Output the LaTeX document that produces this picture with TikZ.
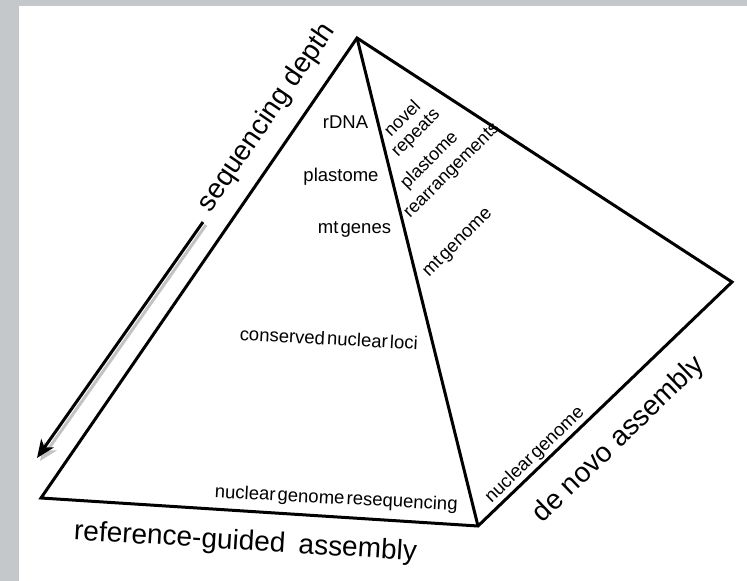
\documentclass[tikz,border=0pt]{standalone}
\usepackage{fontspec}
\setmainfont{Liberation Sans}
\usetikzlibrary{arrows.meta}
\definecolor{framegray}{RGB}{197,200,203}
\definecolor{shadowgray}{RGB}{195,195,195}
\newcommand{\ngap}{\hspace{0.12em}}
\begin{document}
\begin{tikzpicture}[x=1pt,y=-1pt,
  edge/.style={line width=3pt, line join=miter, miter limit=20},
  lbl/.style={font=\fontsize{18.5}{19.5}\selectfont, inner sep=0pt},
  rlbl/.style={font=\fontsize{18}{19}\selectfont, inner sep=0pt, rotate=45, anchor=base west},
  big/.style={font=\fontsize{28}{30}\selectfont, inner sep=0pt},
  depth/.style={line width=3pt, -{Stealth[length=18pt,width=15pt,inset=5pt]}}]
\fill[framegray] (0,0) rectangle (747,581);
\fill[white] (19,6) rectangle (747,581);
\useasboundingbox (0,0) rectangle (747,581);
% pyramid corners
\coordinate (A) at (357,38);
\coordinate (BL) at (41,498);
\coordinate (BM) at (478,526);
\coordinate (R) at (732,282);
\draw[edge] (BL) -- (A) -- (R) -- (BM) -- cycle;
\draw[edge] (A) -- (BM);
% sequencing depth arrow
\coordinate (S) at (203,222);
\coordinate (T) at (37,458);
\draw[depth, shadowgray] ([shift={(3,3)}]S) -- ([shift={(3,3)}]T);
\draw[depth] (S) -- (T);
% big labels
\node[big, rotate=55.5, anchor=base] (sd) at (273,122) {sequencing depth};
\node[big, rotate=-3.5, anchor=base] (rg) at (245,550) {reference-guided\hspace{0.2em} assembly};
\node[big, rotate=44, anchor=base] (dn) at (624,445) {de novo assembly};
% front face labels
\node[lbl, anchor=base] (rdna) at (345.5,128) {rDNA};
\node[lbl, anchor=base] (pl) at (341,181) {plastome};
\node[lbl, anchor=base] (mtg) at (354.5,233) {mt\ngap genes};
\node[lbl, anchor=base, rotate=-3] (cnl) at (328.5,345) {conserved\ngap nuclear\ngap loci};
\node[lbl, anchor=base, rotate=-3] (ngr) at (336,504) {nuclear\ngap genome\ngap resequencing};
% right face labels
\node[rlbl] (nov) at (391,138) {novel};
\node[rlbl] (rep) at (398,158) {repeats};
\node[rlbl] (pla) at (407,190) {plastome};
\node[rlbl] (rea) at (410,219) {rearrangements};
\node[lbl, rotate=45] (mtgen) at (458,243) {mt\ngap genome};
\node[lbl, rotate=44] (ng) at (535,455) {nuclear\ngap genome};
\end{tikzpicture}
\end{document}
